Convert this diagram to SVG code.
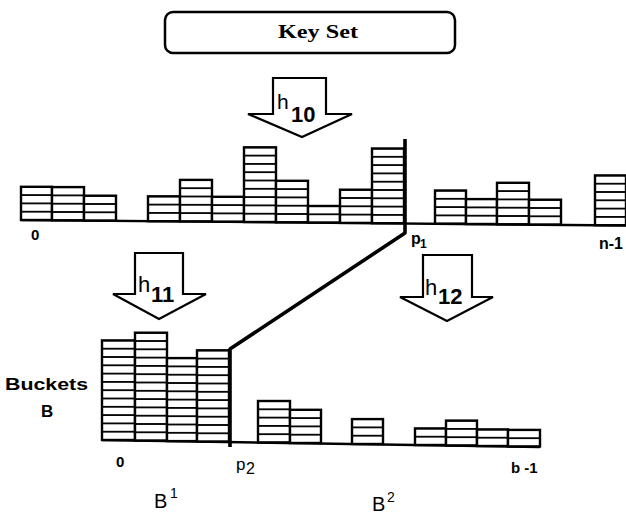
<svg xmlns="http://www.w3.org/2000/svg" width="626" height="514" viewBox="0 0 626 514">
<style>
.bar{stroke:#000;stroke-width:2.4;fill:url(#rows)}
.base{stroke:#000;stroke-width:2.4;fill:none}
.arrow{fill:#fff;stroke:#000;stroke-width:2.2;stroke-linejoin:miter}
.split{stroke:#000;stroke-width:3.6;fill:none;stroke-linejoin:round}
.lbl{font-family:"Liberation Sans",Arial,sans-serif;fill:#000}
.b{font-weight:bold}
</style>
<defs>
<pattern id="rows" width="10" height="8.3" patternUnits="userSpaceOnUse">
<rect x="0" y="0" width="10" height="8.3" fill="#fff"/>
<rect x="0" y="0" width="10" height="0.9" fill="#000"/>
<rect x="0" y="7.4" width="10" height="0.9" fill="#000"/>
</pattern>
</defs>
<rect width="626" height="514" fill="#fff"/>

<g id="keyset">
<rect x="165" y="12" width="290" height="41" rx="8" fill="#fff" stroke="#000" stroke-width="2.5"/>
<text x="278" y="38" font-family="'Liberation Serif','Times New Roman',serif" font-weight="bold" font-size="19" textLength="80" lengthAdjust="spacingAndGlyphs">Key Set</text>
</g>

<g id="arrow-h10">
<polygon class="arrow" points="273,78 326,78 326,114 352,114 302,137 248,114 273,114"/>
<text class="lbl" x="277" y="109" font-size="21">h</text>
<text class="lbl b" x="291" y="122" font-size="22">10</text>
</g>

<g id="array-n">
<line class="base" x1="21" y1="220" x2="626" y2="225.5"/>
<g transform="translate(21,220)"><rect class="bar" x="0" y="-33.2" width="31" height="33.2"/></g>
<g transform="translate(52,220.3)"><rect class="bar" x="0" y="-33.2" width="32" height="33.2"/></g>
<g transform="translate(84,220.6)"><rect class="bar" x="0" y="-24.9" width="32" height="24.9"/></g>
<g transform="translate(148,221.2)"><rect class="bar" x="0" y="-24.9" width="32" height="24.9"/></g>
<g transform="translate(180,221.4)"><rect class="bar" x="0" y="-41.5" width="32" height="41.5"/></g>
<g transform="translate(212,221.7)"><rect class="bar" x="0" y="-24.9" width="32" height="24.9"/></g>
<g transform="translate(244,222)"><rect class="bar" x="0" y="-74.7" width="32" height="74.7"/></g>
<g transform="translate(276,222.3)"><rect class="bar" x="0" y="-41.5" width="32" height="41.5"/></g>
<g transform="translate(308,222.6)"><rect class="bar" x="0" y="-16.6" width="32" height="16.6"/></g>
<g transform="translate(340,222.9)"><rect class="bar" x="0" y="-33.2" width="32" height="33.2"/></g>
<g transform="translate(372,223.2)"><rect class="bar" x="0" y="-74.7" width="32" height="74.7"/></g>
<g transform="translate(435,223.7)"><rect class="bar" x="0" y="-33.2" width="31" height="33.2"/></g>
<g transform="translate(466,224)"><rect class="bar" x="0" y="-24.9" width="31" height="24.9"/></g>
<g transform="translate(497,224.3)"><rect class="bar" x="0" y="-41.5" width="32" height="41.5"/></g>
<g transform="translate(529,224.6)"><rect class="bar" x="0" y="-24.9" width="32" height="24.9"/></g>
<g transform="translate(595,225.2)"><rect class="bar" x="0" y="-49.8" width="31" height="49.8"/></g>
<text class="lbl b" x="31" y="240" font-size="15">0</text>
<text class="lbl b" x="411" y="244" font-size="16">p</text>
<text class="lbl b" x="420" y="248" font-size="12">1</text>
<text class="lbl b" x="599" y="249" font-size="16">n-1</text>
</g>

<g id="arrow-h11">
<polygon class="arrow" points="135,253 183,253 183,294 206,294 159,319 113,294 135,294"/>
<text class="lbl" x="138" y="292" font-size="22">h</text>
<text class="lbl b" x="151" y="302" font-size="22">11</text>
</g>

<g id="arrow-h12">
<polygon class="arrow" points="423,255 472,255 472,297 493,297 447,321 400,297 423,297"/>
<text class="lbl" x="425" y="295" font-size="22">h</text>
<text class="lbl b" x="438" y="304" font-size="22">12</text>
</g>

<g id="buckets">
<line class="base" x1="102" y1="440" x2="540" y2="447"/>
<g transform="translate(102,440)"><rect class="bar" x="0" y="-99.6" width="33" height="99.6"/></g>
<g transform="translate(135,440.6)"><rect class="bar" x="0" y="-107.9" width="32" height="107.9"/></g>
<g transform="translate(167,441.1)"><rect class="bar" x="0" y="-83" width="30" height="83"/></g>
<g transform="translate(197,441.6)"><rect class="bar" x="0" y="-91.3" width="32" height="91.3"/></g>
<g transform="translate(258,442.5)"><rect class="bar" x="0" y="-41.5" width="32" height="41.5"/></g>
<g transform="translate(290,443)"><rect class="bar" x="0" y="-33.2" width="31" height="33.2"/></g>
<g transform="translate(352,444)"><rect class="bar" x="0" y="-24.9" width="31" height="24.9"/></g>
<g transform="translate(415,445)"><rect class="bar" x="0" y="-16.6" width="31" height="16.6"/></g>
<g transform="translate(446,445.5)"><rect class="bar" x="0" y="-24.9" width="31" height="24.9"/></g>
<g transform="translate(477,446)"><rect class="bar" x="0" y="-16.6" width="31" height="16.6"/></g>
<g transform="translate(508,446.5)"><rect class="bar" x="0" y="-16.6" width="32" height="16.6"/></g>
<text class="lbl b" x="5" y="390" font-size="17" textLength="83" lengthAdjust="spacingAndGlyphs">Buckets</text>
<text class="lbl b" x="41" y="417" font-size="17">B</text>
<text class="lbl b" x="116" y="467" font-size="15">0</text>
<text class="lbl" x="236" y="470" font-size="17">p</text>
<text class="lbl" x="246" y="474" font-size="16">2</text>
<text class="lbl b" x="511" y="473" font-size="15">b -1</text>
<text class="lbl" x="154" y="508" font-size="20">B</text>
<text class="lbl" x="170" y="498" font-size="14">1</text>
<text class="lbl" x="372" y="511" font-size="20">B</text>
<text class="lbl" x="387" y="502" font-size="14">2</text>
</g>

<g id="connectors">
<polyline class="split" points="405,139 405,233 230,349 230,447"/>
</g>
</svg>
